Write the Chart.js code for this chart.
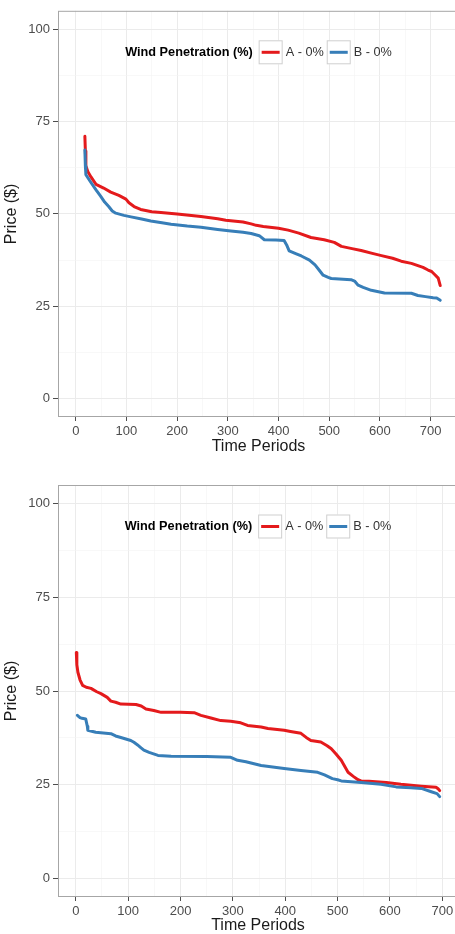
<!DOCTYPE html>
<html>
<head>
<meta charset="utf-8">
<script src="https://cdn.jsdelivr.net/npm/chart.js@4"></script>
<style>
  body { margin: 0; background: #ffffff; overflow: hidden; }
  .panel { position: absolute; left: 0; }
</style>
</head>
<body>
<div class="panel" style="top:0px"><canvas id="chartTop" width="462" height="460"></canvas></div>
<div class="panel" style="top:468px"><canvas id="chartBottom" width="462" height="466"></canvas></div>
<script>
// series names and legend
const legendTitle = "Wind Penetration (%)";
const seriesNames = ["A - 0%", "B - 0%"];

// tick labels
const xTicks = [0, 100, 200, 300, 400, 500, 600, 700];
const yTicks = [0, 25, 50, 75, 100];

// top panel, series A
const topTimeA  = [18, 19, 20, 24, 30, 40, 55, 69, 85, 99, 105, 115, 128, 150, 168, 200, 247, 280, 296, 330, 346, 356, 370, 400, 419, 440, 464, 490, 510, 524, 545, 563, 585, 603, 625, 642, 662, 685, 695, 702, 708, 715, 719];
const topPriceA = [71, 67, 63, 61.4, 60, 58, 57, 55.9, 55, 54, 53, 52, 51.2, 50.6, 50.4, 50, 49.3, 48.7, 48.3, 47.8, 47.3, 46.9, 46.6, 46.1, 45.6, 44.8, 43.6, 43, 42.3, 41.2, 40.6, 40.1, 39.3, 38.7, 38, 37.2, 36.6, 35.5, 34.8, 34.4, 33.6, 32.6, 30.6];

// top panel, series B
const topTimeB  = [18, 19, 20, 30, 40, 49, 57, 65, 72, 79, 95, 109, 130, 148, 170, 188, 220, 247, 280, 306, 330, 346, 362, 372, 395, 411, 416, 421, 435, 445, 461, 472, 480, 488, 498, 504, 543, 550, 557, 567, 583, 609, 662, 675, 690, 705, 712, 719];
const topPriceB = [67.3, 63, 60.6, 58.5, 56.5, 54.8, 53.2, 52, 50.8, 50.2, 49.6, 49.2, 48.6, 48.1, 47.6, 47.2, 46.7, 46.4, 45.8, 45.4, 45, 44.7, 44.1, 43, 42.9, 42.8, 41.6, 40, 39.2, 38.6, 37.5, 36.2, 34.8, 33.4, 32.8, 32.5, 32.2, 31.8, 30.7, 30.1, 29.3, 28.6, 28.5, 27.9, 27.6, 27.3, 27.2, 26.6];

// bottom panel, series A
const botTimeA  = [1, 2, 4, 8, 13, 20, 29, 40, 48, 60, 67, 76, 86, 115, 125, 134, 149, 163, 200, 226, 239, 258, 277, 296, 315, 328, 354, 367, 398, 410, 430, 440, 449, 468, 480, 488, 497, 507, 520, 530, 539, 545, 560, 593, 621, 660, 688, 692, 695];
const botPriceA = [60.3, 57, 55, 53, 51.5, 51, 50.7, 49.8, 49.3, 48.3, 47.3, 47, 46.5, 46.4, 46, 45.2, 44.8, 44.3, 44.3, 44.2, 43.5, 42.8, 42.1, 41.9, 41.5, 40.8, 40.4, 40, 39.5, 39.2, 38.7, 37.6, 36.8, 36.4, 35.4, 34.6, 33.2, 31.5, 28.3, 27.2, 26.3, 26, 25.9, 25.6, 25.1, 24.6, 24.3, 23.9, 23.4];

// bottom panel, series B
const botTimeB  = [3, 8, 12, 19, 22, 23, 38, 67, 76, 86, 105, 111, 118, 124, 130, 140, 157, 182, 250, 296, 309, 325, 354, 398, 430, 462, 475, 490, 500, 507, 545, 583, 612, 640, 660, 679, 690, 695];
const botPriceB = [43.5, 42.9, 42.7, 42.5, 40.6, 39.5, 39, 38.6, 38, 37.6, 36.8, 36.3, 35.6, 34.9, 34.2, 33.6, 32.8, 32.6, 32.5, 32.3, 31.5, 31.1, 30.1, 29.3, 28.8, 28.3, 27.6, 26.6, 26.3, 26, 25.6, 25.1, 24.4, 24.2, 24, 23.1, 22.6, 21.8];

const colorA = "#e41a1c";
const colorB = "#377eb8";

Chart.defaults.font.family = '"Liberation Sans", Arial, sans-serif';

// minor grid lines half way between the major ticks (ggplot style)
function withMinor(ticks, lo, hi) {
    const step = ticks[1] - ticks[0];
    const all = [];
    ticks.forEach(t => { all.push(t - step / 2); all.push(t); all.push(t + step / 2); });
    return [...new Set(all)].filter(v => v >= lo && v <= hi);
}

function toPoints(xs, ys) {
    return xs.map((x, i) => ({ x: x, y: ys[i] }));
}

const panelDecor = {
    id: "panelDecor",
    afterDraw(chart) {
        const { ctx, chartArea } = chart;
        ctx.save();

        // panel border
        ctx.strokeStyle = "#a6a6a6";
        ctx.lineWidth = 1;
        ctx.strokeRect(chartArea.left + 0.5, chartArea.top + 0.5,
            chartArea.right - chartArea.left, chartArea.bottom - chartArea.top - 1);

        // legend inside the panel
        const y = chartArea.top + 41.5;
        const keyW = 24, keyH = 24;
        ctx.font = 'bold 12.7px "Liberation Sans", Arial, sans-serif';
        const titleW = ctx.measureText(legendTitle).width;
        ctx.font = '12.7px "Liberation Sans", Arial, sans-serif';
        const labelW = seriesNames.map(n => ctx.measureText(n).width);
        const total = titleW + 6 + (keyW + 3 + labelW[0]) + 3 + (keyW + 3 + labelW[1]);
        let x = (chartArea.left + chartArea.right) / 2 - total / 2;

        ctx.textBaseline = "middle";
        ctx.textAlign = "left";
        ctx.fillStyle = "#000000";
        ctx.font = 'bold 12.7px "Liberation Sans", Arial, sans-serif';
        ctx.fillText(legendTitle, x, y);
        x += titleW + 6;

        ctx.font = '12.7px "Liberation Sans", Arial, sans-serif';
        [colorA, colorB].forEach((c, i) => {
            ctx.fillStyle = "#ffffff";
            ctx.fillRect(x, y - keyH / 2, keyW, keyH);
            ctx.strokeStyle = "#cfcfcf";
            ctx.lineWidth = 1;
            ctx.strokeRect(x + 0.5, y - keyH / 2 + 0.5, keyW - 1, keyH - 1);
            ctx.strokeStyle = c;
            ctx.lineWidth = 3;
            ctx.beginPath();
            ctx.moveTo(x + 3, y);
            ctx.lineTo(x + keyW - 3, y);
            ctx.stroke();
            x += keyW + 3;
            ctx.fillStyle = "#333333";
            ctx.fillText(seriesNames[i], x, y);
            x += labelW[i] + 3;
        });

        ctx.restore();
    }
};

function makeChart(id, ptsA, ptsB, xMin, xMax, padTop, padRight, xHeight, xTitlePad) {
    const xAll = withMinor(xTicks, xMin, xMax);
    const yAll = withMinor(yTicks, -5, 105);

    return new Chart(document.getElementById(id), {
        type: "line",
        data: {
            datasets: [
                {
                    label: seriesNames[0],
                    data: ptsA,
                    borderColor: colorA,
                    borderWidth: 3,
                    pointRadius: 0,
                    borderCapStyle: "round",
                    borderJoinStyle: "round",
                    tension: 0,
                    order: 1
                },
                {
                    label: seriesNames[1],
                    data: ptsB,
                    borderColor: colorB,
                    borderWidth: 3,
                    pointRadius: 0,
                    borderCapStyle: "round",
                    borderJoinStyle: "round",
                    tension: 0,
                    order: 0
                }
            ]
        },
        options: {
            responsive: false,
            animation: false,
            layout: { padding: { top: padTop, right: padRight, left: 0, bottom: 0 } },
            plugins: {
                legend: { display: false },
                tooltip: { enabled: false }
            },
            scales: {
                x: {
                    type: "linear",
                    min: xMin,
                    max: xMax,
                    afterBuildTicks: s => { s.ticks = xAll.map(v => ({ value: v })); },
                    afterFit: s => { s.height = xHeight; },
                    border: { display: false },
                    grid: {
                        color: c => xTicks.includes(c.tick.value) ? "#ebebeb" : "#f4f4f4",
                        lineWidth: c => xTicks.includes(c.tick.value) ? 1 : 0.6,
                        tickColor: c => xTicks.includes(c.tick.value) ? "#4d4d4d" : "rgba(0,0,0,0)",
                        tickLength: 4
                    },
                    ticks: {
                        autoSkip: false,
                        maxRotation: 0,
                        padding: 3,
                        color: "#4d4d4d",
                        font: { size: 13 },
                        callback: v => xTicks.includes(v) ? String(v) : ""
                    },
                    title: {
                        display: true,
                        text: "Time Periods",
                        color: "#1a1a1a",
                        font: { size: 16, lineHeight: 1 },
                        padding: { top: xTitlePad, bottom: xTitlePad }
                    }
                },
                y: {
                    min: -5,
                    max: 105,
                    afterBuildTicks: s => { s.ticks = yAll.map(v => ({ value: v })); },
                    afterFit: s => { s.width = 58; },
                    border: { display: false },
                    grid: {
                        color: c => yTicks.includes(c.tick.value) ? "#ebebeb" : "#f4f4f4",
                        lineWidth: c => yTicks.includes(c.tick.value) ? 1 : 0.6,
                        tickColor: c => yTicks.includes(c.tick.value) ? "#4d4d4d" : "rgba(0,0,0,0)",
                        tickLength: 5
                    },
                    ticks: {
                        padding: 3,
                        color: "#4d4d4d",
                        font: { size: 13 },
                        callback: v => yTicks.includes(v) ? String(v) : ""
                    },
                    title: {
                        display: true,
                        text: "Price ($)",
                        color: "#1a1a1a",
                        font: { size: 16, lineHeight: 1 },
                        padding: { top: 4, bottom: 4 }
                    }
                }
            }
        },
        plugins: [panelDecor]
    });
}

makeChart("chartTop", toPoints(topTimeA, topPriceA), toPoints(topTimeB, topPriceB), -35, 756, 4, 3, 43, 5);
makeChart("chartBottom", toPoints(botTimeA, botPriceA), toPoints(botTimeB, botPriceB), -34, 730, 17, 4, 37, 0);
</script>
</body>
</html>
